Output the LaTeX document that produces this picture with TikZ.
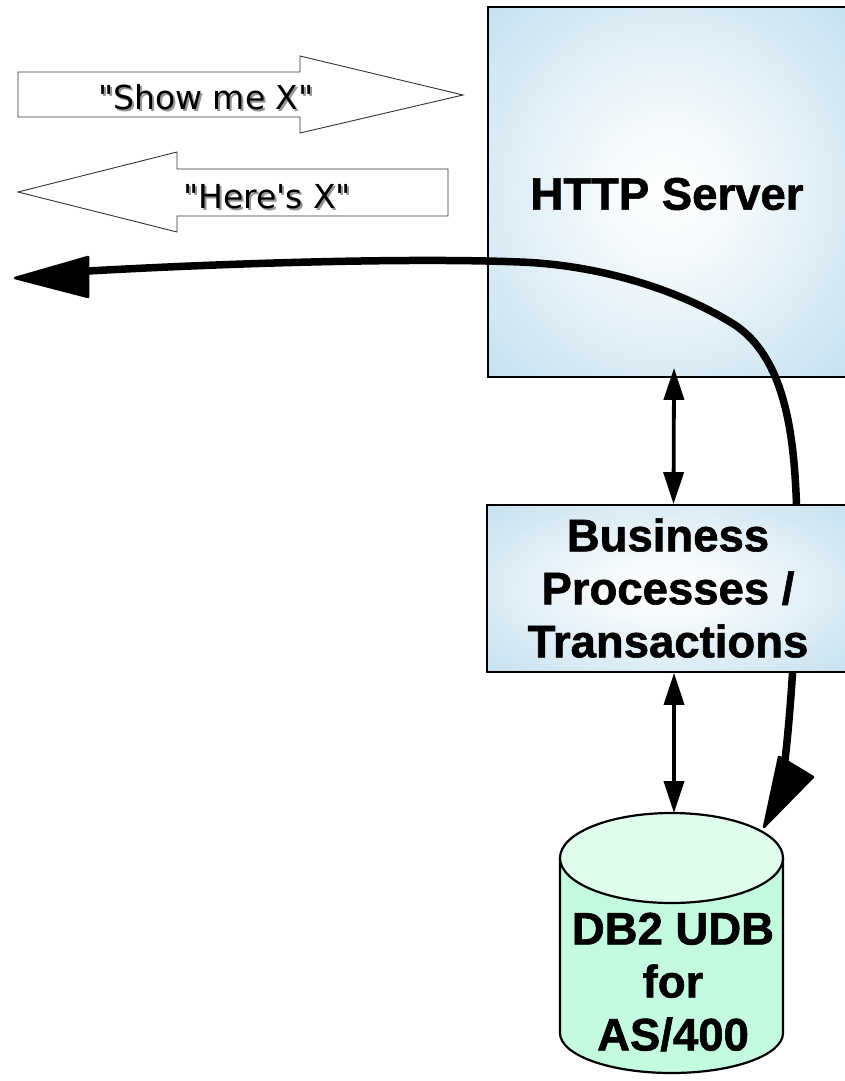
\documentclass[tikz,border=0pt]{standalone}
\usepackage{fontspec}
\usetikzlibrary{arrows.meta}
\newfontfamily\arrowfont{DejaVu Sans}
\newfontfamily\boldfont[BoldFeatures={FakeBold=1.3}]{Liberation Sans}
\definecolor{boxblue}{RGB}{174,212,232}
\definecolor{dbtopc}{RGB}{224,253,236}
\definecolor{dbbody}{RGB}{196,250,222}
\definecolor{shadowgray}{RGB}{150,150,150}
\pgfdeclareradialshading{boxglow}{\pgfpoint{0bp}{0bp}}{color(0bp)=(white!97!boxblue); color(8bp)=(white!90!boxblue); color(50bp)=(boxblue); color(100bp)=(boxblue)}
\tikzset{
  srvbox/.style={draw=black, line width=1.8pt, shading=boxglow, inner sep=0pt},
  bigtext/.style={font=\boldfont\bfseries\fontsize{45.5}{53}\selectfont, align=center},
  blockarrow/.style={draw=black!80, line width=0.9pt, fill=white, line join=miter},
  arrtext/.style={font=\arrowfont\fontsize{33}{38}\selectfont, inner sep=0pt},
  dbl/.style={line width=3.8pt, {Triangle[length=32pt,width=20pt]}-{Triangle[length=32pt,width=20pt]}},
  flow/.style={line width=7.5pt, line cap=round},
  flowhead/.style={fill=black, draw=black, line width=2.5pt, line join=round},
}
\begin{document}
\begin{tikzpicture}[x=1pt,y=1pt]
\useasboundingbox (0,0) rectangle (844,-1081);

% block arrows
\draw[blockarrow] (18,-72) -- (300,-72) -- (300,-56) -- (463,-95) -- (300,-133) -- (300,-117) -- (18,-117) -- cycle;
\node[arrtext, text=shadowgray] (showsh) at (208,-99) {"Show me X"};
\node[arrtext] (show) at (206,-97) {"Show me X"};

\draw[blockarrow] (448,-169) -- (177,-169) -- (177,-152) -- (18,-192) -- (177,-232) -- (177,-216) -- (448,-216) -- cycle;
\node[arrtext, text=shadowgray] (heresh) at (269,-199) {"Here's X"};
\node[arrtext] (here) at (267,-197) {"Here's X"};

% HTTP server box
\node[srvbox, minimum width=358pt, minimum height=370pt] (http) at (667,-192) {};
\node[bigtext] (httptext) at (667,-194) {HTTP Server};

% flow curve (behind business box)
\coordinate (leftend) at (88,-271);
\coordinate (lowend) at (785,-760);
\draw[flow] (leftend) .. controls (250,-262) and (420,-258) .. (520,-262)
  .. controls (600,-265) and (680,-290) .. (735,-325)
  .. controls (790,-362) and (795,-450) .. (797,-520)
  .. controls (798,-600) and (792,-700) .. (lowend);
\draw[flowhead] (15,-278) -- (88,-257) -- (88,-297) -- cycle;

% business box
\node[srvbox, minimum width=359pt, minimum height=167pt] (biz) at (666.5,-588.5) {};
\node[bigtext] (biztext) at (668,-588) {Business\\Processes /\\Transactions};

% database cylinder
\fill[dbbody] (560,-858) -- (560,-1033) arc[start angle=180, end angle=360, x radius=111.5pt, y radius=40pt] -- (783,-858) -- cycle;
\draw[line width=2.2pt] (560,-858) -- (560,-1033) arc[start angle=180, end angle=360, x radius=111.5pt, y radius=40pt] -- (783,-858);
\draw[line width=2.2pt, fill=dbtopc] (671.5,-858) ellipse[x radius=111.5pt, y radius=45pt];
\coordinate (dbtop) at (674,-813);
\node[bigtext] (dbtext) at (673,-982) {DB2 UDB\\for\\AS/400};

% double arrows
\draw[dbl, shorten <=-10pt] ([xshift=7pt]http.south) -- ([xshift=7pt]biz.north);
\draw[dbl] ([xshift=7.5pt]biz.south) -- (dbtop);

% arrowhead into database
\draw[flowhead] (lowend) -- (813,-777) -- (764,-827) -- (779,-757) -- cycle;
\end{tikzpicture}
\end{document}
